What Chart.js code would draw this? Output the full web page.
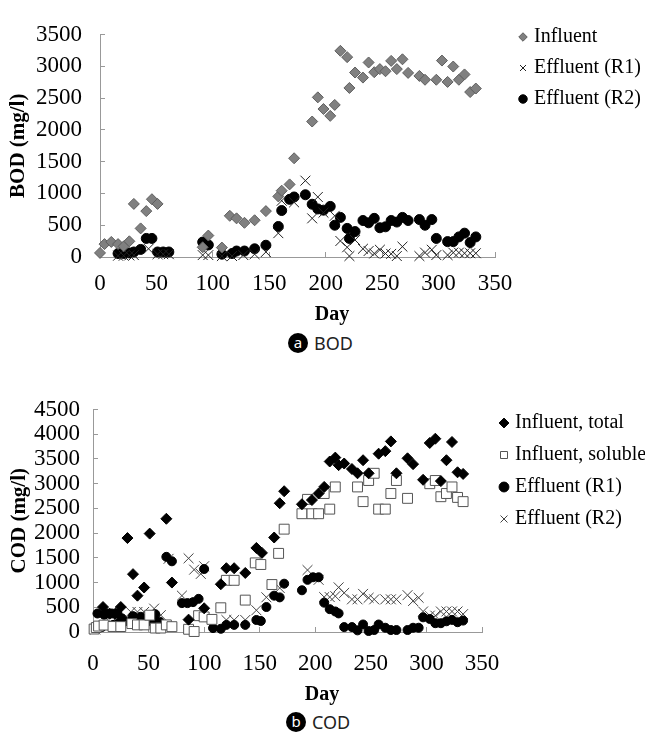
<!DOCTYPE html>
<html>
<head>
<meta charset="utf-8">
<script src="https://cdn.jsdelivr.net/npm/chart.js@4.4.1/dist/chart.umd.min.js"></script>
<style>
  body { margin: 0; background: #fff; width: 645px; height: 736px; position: relative; overflow: hidden; }
  canvas { position: absolute; left: 0; }
  .dot { position: absolute; width: 20px; height: 20px; border-radius: 50%; background: #000; color: #fff;
         font-family: "Noto Sans", sans-serif; font-size: 15px; line-height: 18px; text-align: center; }
  .cap { position: absolute; font-family: "Noto Sans", sans-serif; font-size: 18px; line-height: 20px; color: #222; }
</style>
</head>
<body>
<canvas id="bod" width="645" height="330" style="top:0"></canvas>
<canvas id="cod" width="645" height="330" style="top:380px"></canvas>
<div class="dot" style="left:288px;top:333px">a</div><div class="cap" style="left:314px;top:333px">BOD</div>
<div class="dot" style="left:286px;top:712px">b</div><div class="cap" style="left:312px;top:712px">COD</div>

<script>
// BOD panel (day, mg/l)
const bodInfDays = [0,4,10,16,21,26,30,36,41,46,51,91,96,108,115,121,128,137,147,158,161,168,172,188,193,198,204,208,213,219,221,226,233,238,243,248,253,258,263,268,273,283,288,298,303,308,313,318,323,328,333];
const bodInf = [64,203,237,203,168,247,835,450,722,909,835,153,337,148,648,608,538,578,722,953,1043,1142,1553,2131,2511,2328,2220,2392,3243,3144,2659,2902,2822,3060,2907,2956,2922,3085,2956,3110,2896,2848,2788,2788,3090,2754,2996,2788,2872,2595,2650];

const bodR1Days = [16,21,26,30,43,51,56,61,91,96,108,117,127,137,147,158,161,172,182,188,193,198,208,213,219,221,226,233,238,243,248,253,258,263,268,283,288,294,298,308,313,318,323,328,333];
const bodR1 = [20,20,25,30,129,44,44,44,30,30,15,15,30,44,79,375,885,860,1201,608,944,697,648,252,153,15,267,129,94,55,114,55,49,15,163,15,69,114,30,30,69,69,59,59,59];

const bodR2Days = [16,21,26,30,36,41,46,51,56,61,91,96,108,117,121,128,137,147,158,161,168,172,182,188,193,198,204,208,213,219,221,226,233,238,243,248,253,258,263,268,273,283,288,294,298,308,313,318,323,328,333];
const bodR2 = [55,55,64,79,119,292,292,79,79,79,235,190,44,55,94,94,129,185,480,731,907,944,979,830,756,737,796,500,623,450,292,400,574,538,608,460,475,574,550,623,574,589,500,589,292,242,242,316,375,227,316];

// COD panel (day, mg/l)
const codTotDays = [9,15,20,25,31,36,40,46,51,66,71,86,100,115,120,127,137,147,152,163,168,172,188,197,203,208,213,218,221,226,233,238,243,248,257,263,268,273,283,288,297,303,308,313,318,323,328,333];
const codTot = [505,370,370,505,1900,1170,735,900,1990,2290,1000,250,480,966,1290,1290,1194,1700,1600,1911,2604,2847,2584,2669,2801,2934,3448,3527,3375,3408,3296,3210,3474,3210,3606,3658,3855,3210,3513,3395,3078,3823,3909,3052,3474,3843,3230,3197];

const codSolDays = [1,3,5,10,18,25,35,40,46,51,56,61,66,71,86,91,95,100,107,115,120,127,137,146,151,161,167,172,188,193,197,203,208,213,218,238,243,248,253,257,263,268,273,283,303,308,313,318,323,328,333];
const codSol = [60,90,120,140,111,110,170,144,144,340,80,80,144,108,55,10,330,305,255,490,1045,1045,645,1398,1365,960,1590,2080,2392,2683,2392,2392,2801,2485,2934,2934,2637,3064,3210,2485,2485,2801,3064,2703,2999,3064,2736,2801,2934,2722,2637];

const codR1Days = [2,4,8,10,13,17,18,22,23,26,28,33,36,40,43,45,49,52,55,56,60,66,71,80,85,90,95,100,108,115,120,127,137,147,151,156,163,168,172,188,193,198,203,208,213,218,221,226,233,238,243,248,253,257,263,268,273,283,288,293,297,303,308,313,318,323,328,333];
const codR1 = [80,374,100,350,374,374,144,374,177,276,209,209,321,242,308,229,209,250,242,361,209,1520,1430,584,584,604,670,1274,79,65,144,144,144,243,223,505,735,700,977,844,1055,1107,1107,593,462,415,376,99,99,33,152,20,40,152,86,40,40,40,86,86,297,264,178,178,217,245,198,231];

const codR2Days = [2,10,16,22,28,34,40,46,55,61,68,80,86,91,97,100,120,127,137,147,156,168,193,203,208,213,218,221,226,233,238,243,248,253,263,268,273,283,288,293,297,303,308,313,318,323,328,333];
const codR2 = [50,130,180,200,250,406,406,406,473,341,1480,735,1490,1261,1175,1330,243,243,243,440,702,890,1253,1055,706,706,725,903,791,660,660,771,692,660,660,660,660,745,627,692,415,330,330,415,415,415,415,362];

const serif = "'Liberation Serif', 'Times New Roman', serif";
const pts = (xs, ys) => xs.map((x, i) => ({ x: x, y: ys[i] }));

// put legend + x title where the figure has them (legend overlaps the plot width)
const boxPos = {
  id: 'boxPos',
  afterLayout(chart, args, opts) {
    const lg = chart.legend;
    if (lg) {
      lg.left = opts.x; lg.top = opts.y;
      lg.right = chart.width; lg.bottom = chart.height;
      lg.width = lg.right - lg.left; lg.height = lg.bottom - lg.top;
    }
    const tb = chart.titleBlock;
    if (tb) {
      tb.left = opts.titleX - 100; tb.right = opts.titleX + 100; tb.width = 200;
    }
  }
};

const tickGrid = { display: true, drawOnChartArea: false, drawTicks: true, tickLength: -5, color: '#999', tickColor: '#999' };
const axisBorder = { display: true, color: '#999', width: 1 };
const plain = v => String(v);

function xAxis(pad, h) {
  return {
    type: 'linear', min: 0, max: 350,
    ticks: { stepSize: 50, padding: pad, autoSkip: false, maxRotation: 0, color: '#000', callback: plain,
             font: { family: serif, size: 23, lineHeight: 1 } },
    grid: tickGrid, border: axisBorder,
    afterFit: s => { s.height = h; }
  };
}

function yAxis(max, pad, w, text, tpad) {
  return {
    type: 'linear', min: 0, max: max,
    ticks: { stepSize: 500, padding: pad, autoSkip: false, color: '#000', callback: plain,
             font: { family: serif, size: 23, lineHeight: 1 } },
    grid: tickGrid, border: axisBorder,
    title: { display: true, text: text, color: '#000', font: { family: serif, size: 21, weight: 'bold' }, padding: { top: tpad, bottom: 0 } },
    afterFit: s => { s.width = w; }
  };
}

function baseOptions(padRight, padTop, lx, ly, lpad, boxH, titleX) {
  return {
    responsive: false, animation: false, events: [],
    layout: { padding: { left: 0, top: padTop, right: padRight, bottom: 0 } },
    plugins: {
      legend: {
        position: 'right', align: 'start', maxWidth: 100,
        labels: { usePointStyle: true, boxWidth: 2, boxHeight: boxH, padding: lpad, color: '#000', font: { family: serif, size: 20 } }
      },
      title: { display: true, position: 'bottom', text: 'Day', color: '#000', font: { family: serif, size: 20, weight: 'bold' }, padding: { top: 0, bottom: 3 } },
      tooltip: { enabled: false },
      boxPos: { x: lx, y: ly, titleX: titleX }
    }
  };
}

// 📊 BOD
const bodOpts = baseOptions(50, 21, 511, 16, 11, 6, 332);
bodOpts.scales = { x: xAxis(20, 46), y: yAxis(3500, 23, 100, 'BOD (mg/l)', 6) };

new Chart(document.getElementById('bod'), {
  type: 'scatter',
  data: {
    datasets: [
      { label: 'Influent', data: pts(bodInfDays, bodInf), pointStyle: 'rectRot', radius: 5.5,
        backgroundColor: '#808080', borderColor: '#5e5e5e', borderWidth: 1, clip: false },
      { label: 'Effluent (R1)', data: pts(bodR1Days, bodR1), pointStyle: 'crossRot', radius: 7,
        backgroundColor: '#222', borderColor: '#222', borderWidth: 1, clip: false },
      { label: 'Effluent (R2)', data: pts(bodR2Days, bodR2), pointStyle: 'circle', radius: 5,
        backgroundColor: '#000', borderColor: '#000', borderWidth: 1, clip: false }
    ]
  },
  options: bodOpts,
  plugins: [boxPos]
});

// 📊 COD
const codOpts = baseOptions(63, 24, 491, 21, 12, 7, 322);
codOpts.scales = { x: xAxis(25, 51), y: yAxis(4500, 18, 93, 'COD (mg/l)', 7) };

new Chart(document.getElementById('cod'), {
  type: 'scatter',
  data: {
    datasets: [
      { label: 'Influent, total', data: pts(codTotDays, codTot), pointStyle: 'rectRot', radius: 5.5,
        backgroundColor: '#000', borderColor: '#000', borderWidth: 1, clip: false },
      { label: 'Influent, soluble', data: pts(codSolDays, codSol), pointStyle: 'rect', radius: 7,
        backgroundColor: '#fff', borderColor: '#555', borderWidth: 1, clip: false },
      { label: 'Effluent (R1)', data: pts(codR1Days, codR1), pointStyle: 'circle', radius: 4.5,
        backgroundColor: '#000', borderColor: '#000', borderWidth: 1, clip: false },
      { label: 'Effluent (R2)', data: pts(codR2Days, codR2), pointStyle: 'crossRot', radius: 7,
        backgroundColor: '#444', borderColor: '#444', borderWidth: 1, clip: false }
    ]
  },
  options: codOpts,
  plugins: [boxPos]
});
</script>
</body>
</html>
